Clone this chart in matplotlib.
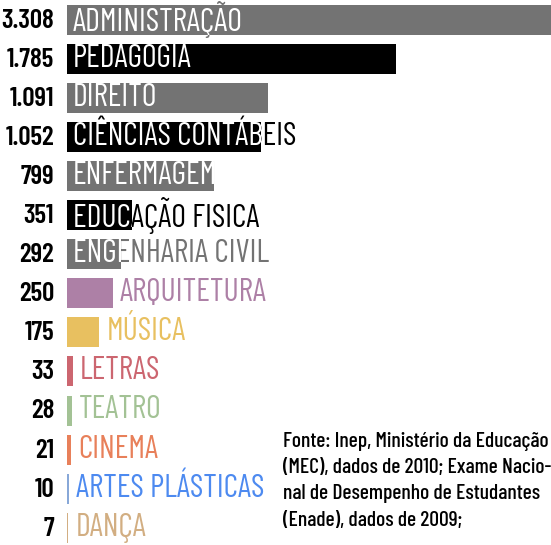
import matplotlib
matplotlib.use('Agg')
import matplotlib.pyplot as plt
from matplotlib.transforms import offset_copy

plt.rcParams['font.family'] = ['Barlow Condensed', 'DejaVu Sans']

cursos = ['ADMINISTRAÇÃO', 'PEDAGOGIA', 'DIREITO', 'CIÊNCIAS CONTÁBEIS',
          'ENFERMAGEM', 'EDUCAÇÃO FISICA', 'ENGENHARIA CIVIL', 'ARQUITETURA',
          'MÚSICA', 'LETRAS', 'TEATRO', 'CINEMA', 'ARTES PLÁSTICAS', 'DANÇA']
valores = [3308, 1785, 1091, 1052, 799, 351, 292, 250, 175, 33, 28, 21, 10, 7]
rotulos = ['3.308', '1.785', '1.091', '1.052', '799', '351', '292', '250',
           '175', '33', '28', '21', '10', '7']
cor_barra = ['#737373', '#000000', '#737373', '#000000', '#737373', '#000000',
             '#737373', '#ad80a6', '#e8c060', '#cc6670', '#a3c295', '#e8805a',
             '#88a8d8', '#d2ae82']
cor_texto = ['#737373', '#000000', '#737373', '#000000', '#737373', '#000000',
             '#737373', '#ad80a6', '#e8c060', '#cc6670', '#a3c295', '#e8805a',
             '#4d8af0', '#d2ae82']
n_dentro = 7  # first rows carry the label inside the bar

fonte = ('Fonte: Inep, Ministério da Educação\n'
         '(MEC), dados de 2010; Exame Nacio-\n'
         'nal de Desempenho de Estudantes\n'
         '(Enade), dados de 2009;')

W, H = 551, 545
x0 = 67          # px where bars start
escala = 0.1845  # px per student
passo = 39.1     # px between rows
topo = 19.5      # px center of first row

fig = plt.figure(figsize=(W / 100, H / 100), dpi=100)
ax = fig.add_axes([x0 / W, 0, 1 - x0 / W, 1])
ax.set_xlim(0, (W - x0) / escala)
ax.set_ylim((H - topo) / passo, -topo / passo)
ax.axis('off')

pos = list(range(len(cursos)))
bars = ax.barh(pos, valores, height=30 / passo, color=cor_barra, left=0)

t_num = offset_copy(ax.transData, fig=fig, x=-13, y=-1, units='dots')
t_in = offset_copy(ax.transData, fig=fig, x=6, y=0, units='dots')
t_out = offset_copy(ax.transData, fig=fig, x=7, y=0, units='dots')

for i, (nome, v, rot) in enumerate(zip(cursos, valores, rotulos)):
    ax.text(0, i, rot, transform=t_num, ha='right', va='center',
            fontsize=19.5, fontweight='semibold', color='black', clip_on=False)
    if i < n_dentro:
        ax.text(0, i, nome, transform=t_in, ha='left', va='center',
                fontsize=23, color=cor_texto[i], clip_on=False)
        t = ax.text(0, i, nome, transform=t_in, ha='left', va='center',
                    fontsize=23, color='white', clip_on=True)
        t.set_clip_path(bars[i])
    else:
        ax.text(v, i, nome, transform=t_out, ha='left', va='center',
                fontsize=23, color=cor_texto[i], clip_on=False)

fig.text(283 / W, 1 - 432 / H, fonte, ha='left', va='top', fontsize=15.5,
         fontweight='medium', linespacing=1.48, color='black')

fig.savefig('out.png', dpi=100)
